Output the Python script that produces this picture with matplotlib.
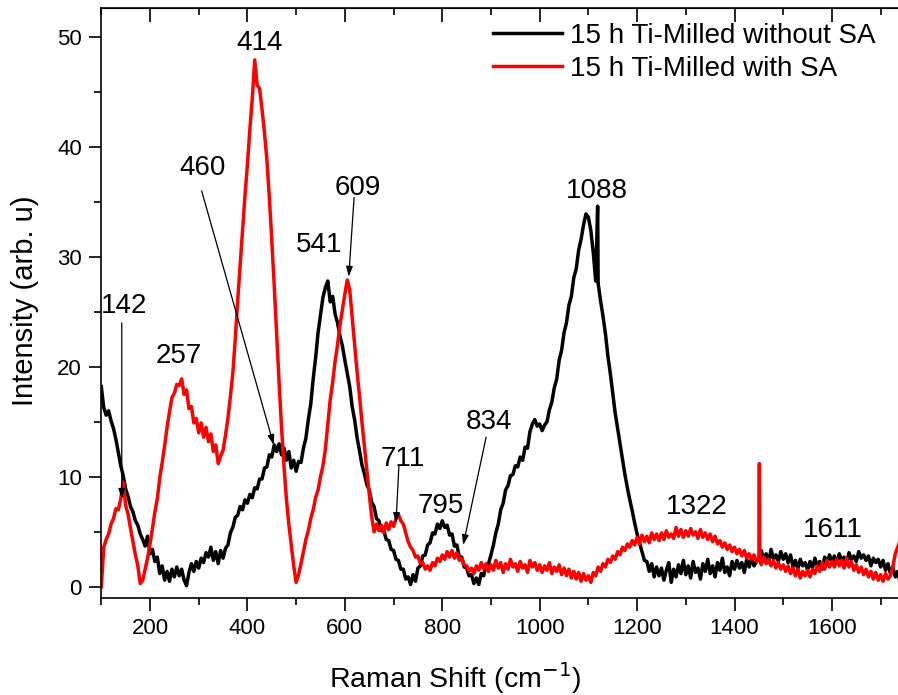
import numpy as np
import matplotlib.pyplot as plt
from matplotlib.ticker import MultipleLocator

plt.rcParams['font.family'] = ['Liberation Sans', 'DejaVu Sans']

# Raman shift grid (cm^-1), 100 ... 1745 in steps of 5
shift = np.arange(100, 1750, 5)

# 15 h Ti-milled, without SA
without_sa = [
    18.2, 16.3, 15.6, 16.0, 15.1, 14.4, 13.4, 12.2, 11.0, 10.1,
    8.9, 8.2, 7.3, 6.8, 6.0, 5.6, 4.8, 4.3, 3.7, 4.6,
    3.0, 3.4, 2.3, 2.7, 1.2, 1.9, 0.6, 1.4, 0.5, 1.6,
    0.9, 1.8, 1.0, 1.6, 0.6, 0.1, 1.3, 2.1, 1.4, 2.3,
    1.7, 2.6, 2.2, 3.1, 2.7, 3.6, 2.4, 3.2, 2.1, 3.3,
    2.6, 3.5, 3.8, 4.9, 5.4, 6.3, 6.5, 7.3, 7.0, 7.9,
    7.6, 8.4, 8.1, 9.0, 8.9, 9.8, 9.8, 10.8, 10.9, 12.0,
    11.8, 12.9, 12.3, 13.0, 12.0, 12.6, 11.5, 12.3, 10.8, 11.5,
    10.5, 11.4, 11.3, 12.6, 13.5, 15.2, 16.6, 18.9, 20.8, 23.1,
    24.7, 26.3, 27.2, 27.8, 25.9, 26.4, 24.8, 24.0, 22.8, 21.9,
    20.6, 19.4, 18.2, 16.4, 15.2, 13.6, 12.4, 11.1, 10.3, 9.3,
    8.8, 7.7, 7.3, 6.2, 6.0, 5.1, 5.1, 4.3, 4.2, 3.4,
    3.3, 2.5, 2.4, 1.6, 1.6, 0.7, 0.9, 0.2, 1.1, 0.5,
    1.7, 1.9, 2.8, 2.9, 3.8, 4.0, 4.9, 4.8, 5.7, 5.3,
    6.0, 5.4, 5.6, 4.7, 4.8, 3.7, 3.8, 2.7, 2.7, 1.8,
    1.7, 1.0, 1.1, 0.3, 0.8, 0.2, 1.2, 1.0, 2.0, 2.1,
    2.9, 3.8, 4.9, 5.7, 7.0, 7.6, 8.8, 9.2, 10.1, 10.2,
    11.0, 10.9, 11.8, 11.5, 12.7, 12.6, 14.1, 14.8, 15.2, 14.6,
    14.8, 14.2, 14.7, 15.0, 16.1, 16.8, 18.1, 18.9, 20.6, 21.5,
    23.1, 24.0, 25.6, 26.4, 28.1, 28.9, 30.6, 31.6, 32.9, 33.9,
    33.6, 32.4, 30.4, 27.8, 27.6, 26.0, 24.6, 23.0, 21.0, 19.4,
    17.6, 15.8, 14.4, 13.0, 11.6, 10.2, 9.0, 7.9, 6.9, 5.8,
    4.8, 4.0, 3.2, 2.4, 2.3, 1.4, 2.1, 0.9, 1.8, 1.0,
    1.7, 0.6, 1.5, 2.2, 0.4, 1.6, 0.9, 2.0, 1.2, 2.4,
    1.1, 1.9, 0.8, 2.3, 1.3, 1.7, 0.7, 2.1, 1.4, 2.5,
    1.2, 1.9, 0.9, 2.2, 1.5, 2.6, 1.3, 1.8, 1.0, 2.3,
    1.6, 2.4, 1.7, 2.2, 1.3, 2.5, 1.8, 2.6, 1.9, 2.3,
    2.6, 3.3, 2.4, 3.0, 2.2, 3.4, 2.5, 2.9, 2.3, 3.2,
    2.5, 3.0, 2.2, 2.9, 1.8, 2.4, 1.6, 2.5, 1.9, 2.2,
    1.5, 2.3, 1.7, 2.6, 1.9, 2.3, 1.6, 2.7, 2.2, 2.9,
    2.3, 2.8, 2.1, 3.0, 2.4, 2.7, 2.0, 3.1, 2.5, 2.8,
    2.3, 3.2, 2.6, 2.9, 2.4, 2.8, 1.9, 2.6, 2.2, 2.5,
    1.8, 2.4, 1.5, 2.1, 1.2, 1.8, 0.9, 1.4, 0.3, 0.2,
]
without_sa_spike_x = [1119]
without_sa_spike_y = [34.6]

# 15 h Ti-milled, with SA
with_sa = [
    0.0, 3.6, 4.3, 4.8, 5.7, 6.2, 7.1, 7.0, 8.0, 9.5,
    7.4, 6.6, 5.3, 4.1, 2.9, 1.9, 0.3, 0.6, 1.6, 2.6,
    3.9, 5.3, 6.8, 8.0, 9.9, 11.3, 12.8, 14.5, 15.9, 17.2,
    17.6, 18.4, 18.3, 18.9, 17.5, 17.9, 16.2, 16.4, 14.9, 15.3,
    14.0, 14.9, 13.6, 14.5, 13.2, 13.9, 12.3, 12.9, 11.2, 11.9,
    12.4, 13.8, 15.3, 17.3, 19.4, 22.5, 26.0, 29.2, 32.4, 35.6,
    38.4, 41.6, 44.4, 47.9, 45.6, 45.3, 43.4, 41.3, 38.8, 35.4,
    31.5, 27.4, 23.0, 18.6, 14.5, 11.0, 8.0, 5.7, 3.8, 1.9,
    0.4, 1.1, 2.1, 3.2, 4.3, 5.1, 6.2, 7.0, 8.1, 8.8,
    10.0, 11.0, 12.5, 14.8, 17.0, 18.6, 20.5, 22.0, 23.8, 25.2,
    26.6, 27.9, 27.0, 24.5, 22.0, 19.6, 17.4, 15.0, 12.8, 10.5,
    8.5, 6.4, 5.0, 5.7, 5.1, 5.6, 4.9, 5.8, 5.2, 5.9,
    5.5, 6.2, 6.6, 6.0, 5.7, 4.9, 4.1, 3.6, 3.3, 2.7,
    2.8, 2.1, 2.2, 1.6, 1.9, 1.5, 2.2, 1.9, 2.6, 2.3,
    2.9, 2.5, 3.2, 2.7, 3.3, 2.6, 3.1, 2.4, 2.6, 2.0,
    1.9, 1.4, 1.7, 1.2, 1.9, 1.5, 2.2, 1.6, 2.1, 1.4,
    2.0, 1.5, 2.4, 1.7, 2.2, 1.3, 2.1, 1.6, 2.5, 1.8,
    2.1, 1.4, 2.3, 1.7, 2.0, 1.3, 2.4, 1.8, 2.2, 1.5,
    2.0, 1.3, 1.9, 1.5, 2.2, 1.2, 1.8, 1.4, 2.0, 1.1,
    1.7, 1.0, 1.6, 0.8, 1.4, 0.7, 1.3, 0.5, 1.2, 0.6,
    1.0, 0.4, 1.3, 1.0, 1.8, 1.4, 2.1, 1.8, 2.5, 2.2,
    2.8, 2.5, 3.2, 2.9, 3.6, 3.3, 3.9, 3.6, 4.2, 3.8,
    4.5, 3.9, 4.7, 4.1, 4.6, 4.0, 4.9, 4.3, 4.8, 4.2,
    4.9, 4.3, 5.1, 4.5, 4.8, 4.4, 5.4, 4.6, 5.2, 4.5,
    5.1, 4.6, 5.3, 4.7, 5.0, 4.4, 5.2, 4.5, 4.9, 4.3,
    4.8, 4.1, 4.6, 3.9, 4.2, 3.6, 4.0, 3.4, 3.8, 3.2,
    3.6, 3.0, 3.4, 2.8, 3.3, 2.6, 3.0, 2.5, 2.9, 2.3,
    2.6, 2.0, 2.7, 2.1, 2.5, 1.9, 2.4, 1.7, 2.2, 1.6,
    2.0, 1.4, 1.9, 1.2, 1.7, 1.0, 1.6, 0.8, 1.4, 1.0,
    1.5, 0.9, 1.6, 1.2, 1.9, 1.4, 2.2, 1.6, 2.4, 1.8,
    2.3, 1.8, 2.5, 1.9, 2.4, 1.7, 2.6, 1.8, 2.3, 1.5,
    2.0, 1.3, 1.8, 1.1, 1.6, 0.9, 1.4, 0.7, 1.3, 0.6,
    1.1, 0.5, 1.2, 0.7, 1.0, 1.8, 3.0, 3.6, 4.2, 4.5,
]
with_sa_spike_x = [1451, 1452]
with_sa_spike_y = [11.2, 2.4]


def add_spikes(x, y, sx, sy):
    xx = np.concatenate([x, sx])
    yy = np.concatenate([y, sy])
    order = np.argsort(xx, kind='stable')
    return xx[order], yy[order]


x1, y1 = add_spikes(shift, without_sa, without_sa_spike_x, without_sa_spike_y)
x2, y2 = add_spikes(shift, with_sa, with_sa_spike_x, with_sa_spike_y)

fig = plt.figure(figsize=(8.98, 6.95), dpi=100)
ax = fig.add_axes([0.1128, 0.1391, 0.895, 0.849])

ax.plot(x1, y1, color='black', lw=2.5, label='15 h Ti-Milled without SA')
ax.plot(x2, y2, color='red', lw=2.5, label='15 h Ti-Milled with SA')

ax.set_xlim(100, 1750)
ax.set_ylim(-1.05, 52.6)
ax.xaxis.set_major_locator(MultipleLocator(200))
ax.xaxis.set_minor_locator(MultipleLocator(100))
ax.yaxis.set_major_locator(MultipleLocator(10))
ax.yaxis.set_minor_locator(MultipleLocator(5))
ax.tick_params(which='both', direction='out', labelsize=16, width=1.2, pad=5,
               top=False, right=False)
ax.tick_params(which='major', length=9)
ax.tick_params(which='minor', length=5)
ax.spines['right'].set_visible(False)
for s in ['left', 'bottom', 'top']:
    ax.spines[s].set_linewidth(1.2)

# inward ticks along the top edge
top = ax.secondary_xaxis('top')
top.xaxis.set_major_locator(MultipleLocator(200))
top.xaxis.set_minor_locator(MultipleLocator(100))
top.tick_params(which='both', direction='in', width=1.2, labeltop=False)
top.tick_params(which='major', length=10)
top.tick_params(which='minor', length=5)

ax.set_xlabel('Raman Shift (cm$^{-1}$)', fontsize=20.5)
ax.xaxis.set_label_coords(0.44, -0.105)
ax.set_ylabel('Intensity (arb. u)', fontsize=21)
ax.yaxis.set_label_coords(-0.078, 0.505)

# peak positions
labels = {
    '142': (147, 25.5), '257': (258, 21.0), '414': (425, 49.4),
    '460': (307, 38.1), '541': (548, 31.1), '609': (626, 36.3),
    '711': (719, 11.6), '795': (797, 7.3), '834': (895, 15.0),
    '1088': (1118, 36.0), '1322': (1322, 7.25), '1611': (1601, 5.15),
}
for txt, (lx, ly) in labels.items():
    ax.text(lx, ly, txt, fontsize=20, ha='center', va='center')

arrows = [
    ((142, 24.0), (142, 8.0)),
    ((306, 36.0), (454, 12.9)),
    ((619, 35.4), (608, 28.2)),
    ((711, 11.0), (705, 5.8)),
    ((890, 13.6), (843, 3.8)),
]
for start, end in arrows:
    ax.annotate('', xy=end, xytext=start,
                arrowprops=dict(arrowstyle='-|>,head_length=0.6,head_width=0.2',
                                color='black', lw=0.9, mutation_scale=10,
                                shrinkA=0, shrinkB=0))

ax.legend(loc='upper left', bbox_to_anchor=(0.487, 0.975), frameon=False,
          fontsize=20, handlelength=2.5, handletextpad=0.3, labelspacing=0.25,
          borderpad=0, borderaxespad=0)

fig.savefig('out.png', dpi=100)
